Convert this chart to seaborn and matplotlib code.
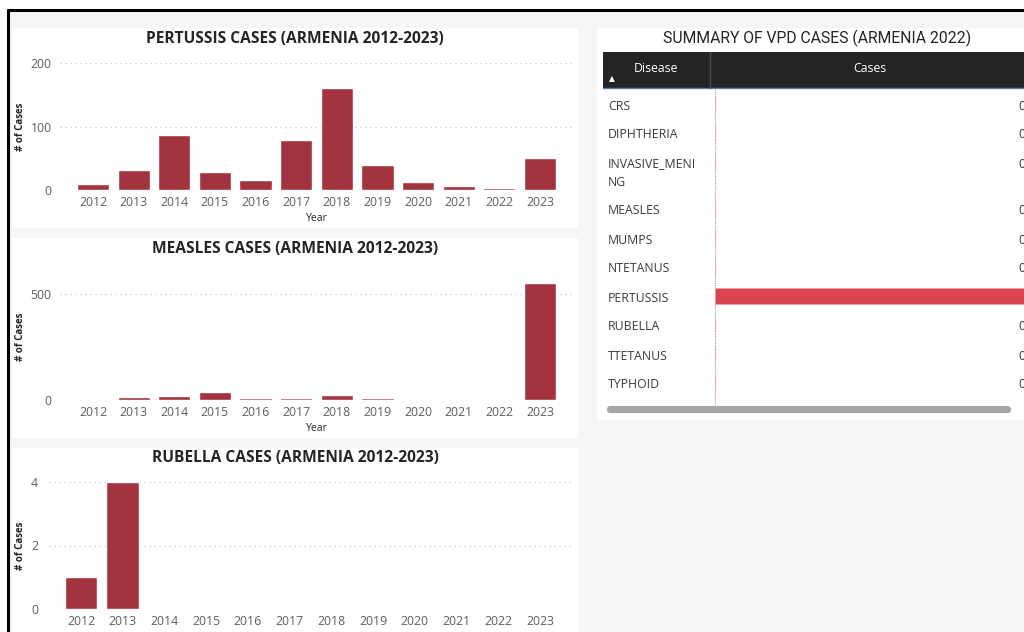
import textwrap

import matplotlib.pyplot as plt
import seaborn as sns
from matplotlib.patches import FancyBboxPatch, Rectangle

# -----------------------------------------------------------
# Data
# -----------------------------------------------------------

years = ["2012", "2013", "2014", "2015", "2016", "2017",
         "2018", "2019", "2020", "2021", "2022", "2023"]

pertussis = [9, 31, 86, 28, 16, 78, 161, 40, 13, 7, 3, 51]
measles = [0, 14, 17, 36, 8, 8, 24, 11, 0, 0, 0, 555]
rubella = [1, 4, 0, 0, 0, 0, 0, 0, 0, 0, 0, 0]

diseases = ["CRS", "DIPHTHERIA", "INVASIVE_MENING", "MEASLES", "MUMPS",
            "NTETANUS", "PERTUSSIS", "RUBELLA", "TTETANUS", "TYPHOID"]
cases_2022 = [0, 0, 0, 0, 0, 0, 1, 0, 0, 0]

# -----------------------------------------------------------
# Style
# -----------------------------------------------------------

sns.set_theme(style="white")
plt.rcParams["font.family"] = ["Open Sans", "DejaVu Sans"]

W, H = 1024, 632
BAR = "#a2333f"
DARK = "#252423"
GREY = "#605e5c"

fig = plt.figure(figsize=(W / 100, H / 100), dpi=100)
fig.patch.set_facecolor("white")

# background layer in pixel units (y down)
bg = fig.add_axes([0, 0, 1, 1], zorder=0)
bg.set_xlim(0, W)
bg.set_ylim(H, 0)
bg.axis("off")


def box(x0, y0, x1, y1):
    return [x0 / W, 1 - y1 / H, (x1 - x0) / W, (y1 - y0) / H]


# canvas + frame
bg.add_patch(Rectangle((9, 11), W, H, color="#f6f6f6", lw=0))
bg.plot([7, W], [10, 10], color="black", lw=2.2, solid_capstyle="butt")
bg.plot([8, 8], [9, H], color="black", lw=2.2, solid_capstyle="butt")

# white tiles
for x0, y0, x1, y1 in [(12, 28, 578, 228), (12, 238, 578, 438),
                       (12, 448, 578, H + 5), (597, 28, W + 5, 420)]:
    bg.add_patch(Rectangle((x0, y0), x1 - x0, y1 - y0, color="white", lw=0))

# -----------------------------------------------------------
# Bar charts
# -----------------------------------------------------------

charts = [
    # title, values, plot box, xlim, ylim, yticks, title y, tick pad
    ("PERTUSSIS CASES (ARMENIA 2012-2023)", pertussis, (60, 63, 573, 190),
     (-0.812, 11.812), (0, 200), [0, 100, 200], 39, 6),
    ("MEASLES CASES (ARMENIA 2012-2023)", measles, (60, 273, 573, 400),
     (-0.812, 11.812), (0, 600), [0, 500], 249, 6),
    ("RUBELLA CASES (ARMENIA 2012-2023)", rubella, (49, 482, 571, 609),
     (-0.767, 11.742), (0, 4), [0, 2, 4], 458, 8),
]

for title, values, (x0, y0, x1, y1), xlim, ylim, yticks, ty, pad in charts:
    ax = fig.add_axes(box(x0, y0, x1, y1), zorder=2)
    ax.set_facecolor("none")
    sns.barplot(x=years, y=values, color=BAR, saturation=1, width=0.79, ax=ax)
    ax.set_xlim(*xlim)
    ax.set_ylim(*ylim)
    ax.set_yticks(yticks)
    ax.grid(axis="y", color="#c8c6c4", lw=0.9, ls=(0, (1, 3)))
    ax.set_axisbelow(True)
    sns.despine(ax=ax, left=True, bottom=True)
    ax.tick_params(axis="x", length=0, labelsize=8.8, labelcolor=GREY, pad=4)
    ax.tick_params(axis="y", length=0, labelsize=8.8, labelcolor=GREY, pad=pad)
    ax.set_xlabel("Year", fontsize=7.5, color=DARK, labelpad=3)
    ax.set_ylabel("# of Cases", fontsize=7, weight="bold", color=DARK)
    ax.yaxis.set_label_coords((26 - x0) / (x1 - x0), 0.5)
    bg.text(295, ty, title, ha="center", va="center", fontsize=11.2,
            weight="bold", color=DARK)

# -----------------------------------------------------------
# Summary table (2022)
# -----------------------------------------------------------

bg.text(817, 38, "SUMMARY OF VPD CASES (ARMENIA 2022)", ha="center",
        va="center", fontsize=11.3, color=DARK, family=["Roboto", "DejaVu Sans"])

bg.add_patch(Rectangle((603, 52), 440, 36, color=DARK, lw=0))
bg.plot([603, W], [88, 88], color="#5b7fa6", lw=1)
bg.plot([710, 710], [52, 88], color="#4a4948", lw=1)
bg.text(656, 68, "Disease", ha="center", va="center", fontsize=8.8, color="white")
bg.text(870, 68, "Cases", ha="center", va="center", fontsize=8.8, color="white")
bg.text(612, 79, "\u25b2", ha="center", va="center", fontsize=5.5,
        color="white", family=["DejaVu Sans"])

row_y = []
top = 89
for name, val in zip(diseases, cases_2022):
    lines = textwrap.wrap(name, 13)
    for k, line in enumerate(lines):
        bg.text(608, top + 17 + 18 * k, line, ha="left", va="center",
                fontsize=8.8, color="#3b3a39")
    row_y.append(top + 15)
    top += 29 + 18 * (len(lines) - 1)

bg.plot([715, 715], [89, 405], color="#9a9a9a", lw=0.8, ls=(0, (1, 1)))

# data bars in the Cases column
tax = fig.add_axes(box(715, 89, 1035, 405), zorder=1)
tax.set_ylim(405, 89)
tax.set_xlim(0, max(cases_2022))
tax.barh(row_y, cases_2022, height=16, color="#d9444f", edgecolor="#f0a0a8", lw=0.6)
tax.axis("off")

for y, val in zip(row_y, cases_2022):
    bg.text(1018, y + 2, str(val), ha="left", va="center", fontsize=8.8,
            color="#3b3a39", zorder=3)

bg.add_patch(FancyBboxPatch((607, 406), 404, 7,
                            boxstyle="round,pad=0,rounding_size=3.5",
                            color="#a6a6a6", lw=0, zorder=3))

fig.savefig("out.png", dpi=100)
plt.close(fig)
